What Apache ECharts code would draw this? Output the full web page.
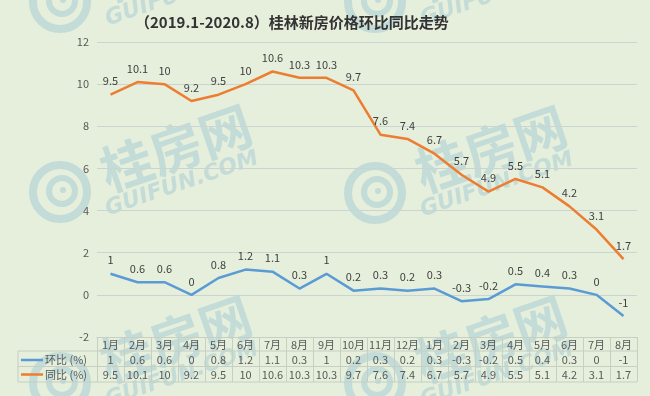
<!DOCTYPE html>
<html>
<head>
<meta charset="utf-8">
<script src="https://cdn.jsdelivr.net/npm/echarts@6/dist/echarts.min.js"></script>
<style>
html,body{margin:0;padding:0;background:#e5efdc;}
#c{width:650px;height:396px;}
</style>
</head>
<body>
<div id="c"></div>
<script>
const categories = ['1月','2月','3月','4月','5月','6月','7月','8月','9月','10月','11月','12月','1月','2月','3月','4月','5月','6月','7月','8月'];
const hbValues = [1,0.6,0.6,0,0.8,1.2,1.1,0.3,1,0.2,0.3,0.2,0.3,-0.3,-0.2,0.5,0.4,0.3,0,-1];
const tbValues = [9.5,10.1,10,9.2,9.5,10,10.6,10.3,10.3,9.7,7.6,7.4,6.7,5.7,4.9,5.5,5.1,4.2,3.1,1.7];
const seriesNames = ['环比 (%)','同比 (%)'];
const titleText = '（2019.1-2020.8）桂林新房价格环比同比走势';
const yMin = -2, yMax = 12, yInterval = 2;

const FONT = '"Noto Sans CJK SC","Noto Sans",sans-serif';
const BLUE = '#5b9bd5', ORANGE = '#ed7d31';
const TABLE = '#c6cfc2';
const GRID_L = 97, GRID_R = 13, GRID_T = 42, GRID_B = 59;
const W = 650, H = 396;
const axisY = H - GRID_B;           // 337
const rowH = 15;
const tableLeft = 18;

const chart = echarts.init(document.getElementById('c'), null, {renderer:'canvas'});

// watermark
const WM = 'rgba(120,175,210,0.30)';
function watermark(cx, cy) {
  return {
    type: 'group', z: 0, silent: true,
    children: [
      {type:'circle', shape:{cx:cx, cy:cy, r:27}, style:{fill:'none', stroke:WM, lineWidth:8}},
      {type:'circle', shape:{cx:cx+2, cy:cy-1, r:13}, style:{fill:'none', stroke:WM, lineWidth:6}},
      {type:'circle', shape:{cx:cx+3, cy:cy-2, r:3}, style:{fill:WM}},
      {type:'text', x:cx+116, y:cy-44, rotation:0.33, style:{text:'桂房网', fill:WM, font:'bold 52px "Noto Sans CJK SC"', align:'center', verticalAlign:'middle'}},
      {type:'text', x:cx+122, y:cy-8, rotation:0.33, style:{text:'GUIFUN.COM', fill:WM, font:'italic bold 22px "DejaVu Sans"', align:'center', verticalAlign:'middle'}}
    ]
  };
}
const graphics = [];
[[60,192],[375,193],[60,2],[375,2],[60,383],[375,383]].forEach(p => graphics.push(watermark(p[0], p[1])));

// table lines
const tableRight = W - GRID_R;
[axisY + rowH - 1, axisY + 2*rowH - 0.5, axisY + 3*rowH].forEach(y => {
  graphics.push({type:'line', z:5, silent:true, shape:{x1:tableLeft, y1:y, x2:tableRight, y2:y}, style:{stroke:TABLE, lineWidth:1}});
});
graphics.push({type:'line', z:5, silent:true, shape:{x1:tableLeft, y1:axisY+rowH-1, x2:tableLeft, y2:axisY+3*rowH}, style:{stroke:TABLE, lineWidth:1}});
// legend keys inside table
[[BLUE, seriesNames[0], axisY + 1.5*rowH + 0.5],[ORANGE, seriesNames[1], axisY + 2.5*rowH]].forEach(k => {
  graphics.push({type:'line', z:6, silent:true, shape:{x1:21, y1:k[2], x2:43, y2:k[2]}, style:{stroke:k[0], lineWidth:2.5}});
  graphics.push({type:'text', z:6, silent:true, x:45, y:k[2], style:{text:k[1], fill:'#595959', font:'11px ' + FONT, verticalAlign:'middle'}});
});

const labelStyle = {show:true, position:'top', distance:7, fontSize:11, color:'#404040', fontFamily:FONT};

chart.setOption({
  backgroundColor:'#e5efdc',
  animation:false,
  title:{
    text:titleText, left:130, top:10,
    textStyle:{fontSize:15, fontWeight:'bold', color:'#333333', fontFamily:FONT}
  },
  grid:{left:GRID_L, right:GRID_R, top:GRID_T, bottom:GRID_B, containLabel:false},
  xAxis:{
    type:'category', data:categories, boundaryGap:true,
    axisLine:{show:true, onZero:false, lineStyle:{color:TABLE}},
    axisTick:{show:true, interval:0, length:3*rowH, lineStyle:{color:TABLE}},
    axisLabel:{
      interval:0, margin:0, fontFamily:FONT,
      formatter:(v, i) => '{h|' + v + '}\n{v|' + hbValues[i] + '}\n{v|' + tbValues[i] + '}',
      rich:{
        h:{fontSize:11, lineHeight:rowH, color:'#595959', fontFamily:FONT},
        v:{fontSize:11, lineHeight:rowH, color:'#595959', fontFamily:FONT}
      }
    }
  },
  yAxis:{
    type:'value', min:yMin, max:yMax, interval:yInterval,
    axisLine:{show:false}, axisTick:{show:false},
    axisLabel:{fontSize:11, color:'#595959', margin:8, fontFamily:FONT},
    splitLine:{lineStyle:{color:'#cad5d3', width:1}}
  },
  series:[
    {name:seriesNames[0], type:'line', data:hbValues, symbol:'circle', symbolSize:2,
     itemStyle:{color:'transparent'}, lineStyle:{color:BLUE, width:2.5}, label:labelStyle, z:3},
    {name:seriesNames[1], type:'line', data:tbValues, symbol:'circle', symbolSize:2,
     itemStyle:{color:'transparent'}, lineStyle:{color:ORANGE, width:2.5}, label:labelStyle, z:3}
  ],
  graphic:graphics
});
</script>
</body>
</html>
